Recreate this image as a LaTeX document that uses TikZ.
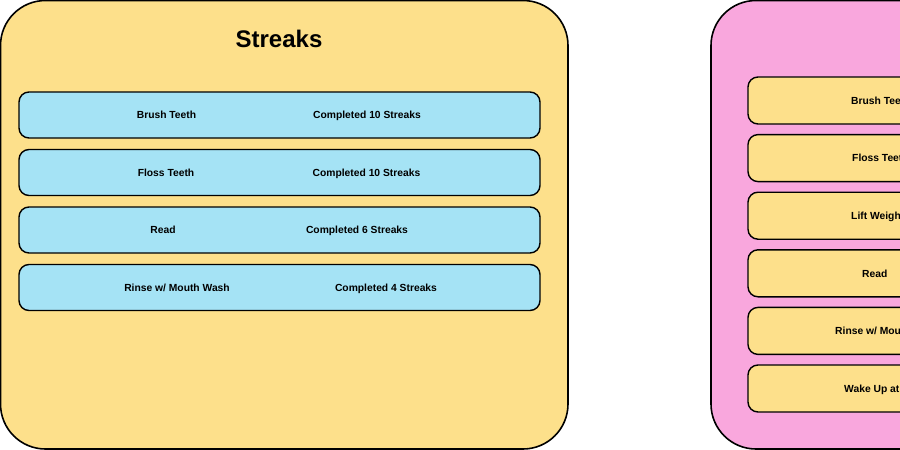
\documentclass[tikz,border=0pt]{standalone}
\usepackage{fontspec}
\setmainfont{Liberation Sans}
\usetikzlibrary{positioning}
\definecolor{streakyellow}{HTML}{FDE08B}
\definecolor{streakblue}{HTML}{A5E3F5}
\definecolor{habitpink}{HTML}{F9A7DD}

\begin{document}
\begin{tikzpicture}[
  x=1pt, y=-1pt,
  panel/.style={draw=black,line width=1.6pt,rounded corners=45pt},
  entry/.style={draw=black,line width=1.4pt,rounded corners=10pt,minimum height=46pt,inner sep=0pt,outer sep=0pt,anchor=north west},
  lbl/.style={font=\fontsize{10.3}{12}\selectfont\bfseries,inner sep=0pt,anchor=base},
  lblw/.style={lbl,anchor=base west},
  title/.style={font=\fontsize{24}{28}\selectfont\bfseries,inner sep=0pt,anchor=base},
]
\useasboundingbox (0,0) rectangle (900,450);
\clip (0,0) rectangle (900,450);

% ===== Streaks panel =====
\draw[panel,fill=streakyellow] (0.5,0.5) rectangle (568,449);
\node[title] (strT) at (279,47) {Streaks};

\node[entry,fill=streakblue,minimum width=521pt] (s1) at (19,92) {};
\node[entry,fill=streakblue,minimum width=521pt,below=11.5pt of s1] (s2) {};
\node[entry,fill=streakblue,minimum width=521pt,below=11.5pt of s2] (s3) {};
\node[entry,fill=streakblue,minimum width=521pt,below=11.5pt of s3] (s4) {};

\node[lbl] (s1a) at (166.5,118.7) {Brush Teeth};
\node[lbl] (s1b) at (367,118.7) {Completed 10 Streaks};
\node[lbl] (s2a) at (166,176.2) {Floss Teeth};
\node[lbl] (s2b) at (366.5,176.2) {Completed 10 Streaks};
\node[lbl] (s3a) at (163,233.7) {Read};
\node[lbl] (s3b) at (357,233.7) {Completed 6 Streaks};
\node[lbl] (s4a) at (177,291.2) {Rinse w/ Mouth Wash};
\node[lbl] (s4b) at (386,291.2) {Completed 4 Streaks};

% ===== habits panel (cut off at the right) =====
\draw[panel,fill=habitpink] (711,0.5) rectangle (980,449);

\node[entry,fill=streakyellow,minimum width=300pt,minimum height=47pt] (h1) at (748,77) {};
\node[entry,fill=streakyellow,minimum width=300pt,minimum height=47pt,below=10.6pt of h1] (h2) {};
\node[entry,fill=streakyellow,minimum width=300pt,minimum height=47pt,below=10.6pt of h2] (h3) {};
\node[entry,fill=streakyellow,minimum width=300pt,minimum height=47pt,below=10.6pt of h3] (h4) {};
\node[entry,fill=streakyellow,minimum width=300pt,minimum height=47pt,below=10.6pt of h4] (h5) {};
\node[entry,fill=streakyellow,minimum width=300pt,minimum height=47pt,below=10.6pt of h5] (h6) {};

\node[lblw] (h1a) at (851,104.2) {Brush Teeth};
\node[lblw] (h2a) at (852,161.8) {Floss Teeth};
\node[lblw] (h3a) at (851,219.4) {Lift Weights};
\node[lblw] (h4a) at (862,277) {Read};
\node[lblw] (h5a) at (835,334.6) {Rinse w/ Mouth Wash};
\node[lblw] (h6a) at (844,392.2) {Wake Up at};
\end{tikzpicture}
\end{document}
